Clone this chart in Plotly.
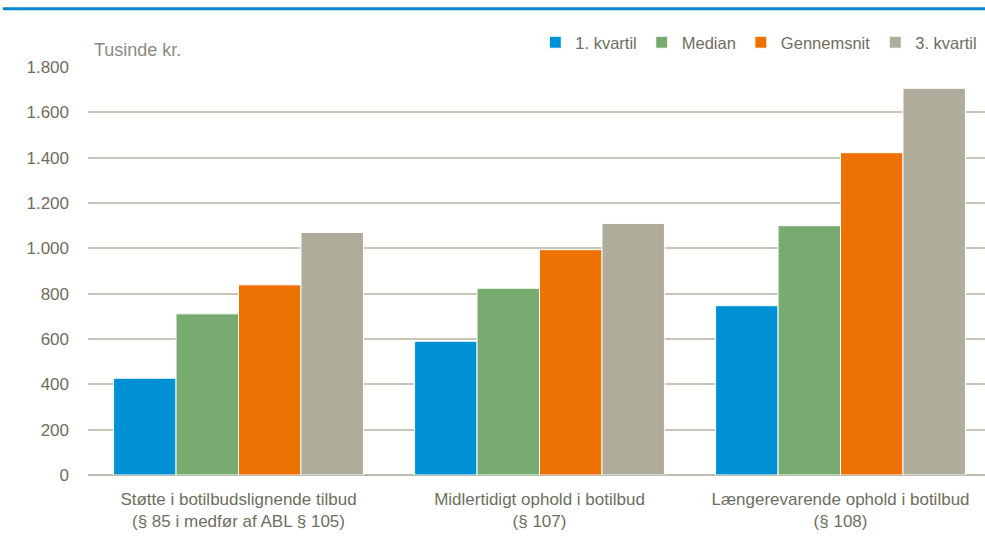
import plotly.graph_objects as go

categories = [
    "Støtte i botilbudslignende tilbud<br>(§ 85 i medfør af ABL § 105)",
    "Midlertidigt ophold i botilbud<br>(§ 107)",
    "Længerevarende ophold i botilbud<br>(§ 108)",
]
series_names = ["1. kvartil", "Median", "Gennemsnit", "3. kvartil"]
kvartil1 = [427, 590, 747]
median = [711, 824, 1100]
gennemsnit = [839, 994, 1422]
kvartil3 = [1070, 1110, 1706]
series_values = [kvartil1, median, gennemsnit, kvartil3]
colors = ["#0090D4", "#77AB6F", "#EE7203", "#AFAC9C"]
tick_vals = [0, 200, 400, 600, 800, 1000, 1200, 1400, 1600, 1800]
tick_text = ["0", "200", "400", "600", "800", "1.000", "1.200", "1.400", "1.600", "1.800"]

FONT = "Liberation Sans, Arial, sans-serif"
TXT = "#6E6E60"

fig = go.Figure()
for name, vals, col in zip(series_names, series_values, colors):
    fig.add_trace(go.Bar(
        name=name, x=categories, y=vals,
        marker=dict(color=col, line=dict(color="white", width=1)),
    ))

fig.update_layout(
    width=985, height=537,
    margin=dict(l=88, r=0, t=67, b=62, autoexpand=False),
    paper_bgcolor="white", plot_bgcolor="white",
    barmode="group", bargap=0.17, bargroupgap=0.0,
    font=dict(family=FONT, size=17, color=TXT),
    legend=dict(
        orientation="h", x=0.997, xanchor="right", y=1.06, yanchor="middle",
        font=dict(family=FONT, size=16.5, color=TXT),
        traceorder="normal", bgcolor="rgba(0,0,0,0)",
    ),
    xaxis=dict(
        range=[-0.5, 2.48], showgrid=False, showline=False, ticks="",
        automargin=False, ticklabelstandoff=12,
        tickfont=dict(family=FONT, size=17, color=TXT),
    ),
    yaxis=dict(
        range=[0, 1800], tickvals=tick_vals, ticktext=tick_text,
        automargin=False,
        showgrid=True, gridcolor="#C7C6B9", gridwidth=1.5,
        zeroline=True, zerolinecolor="#BDBCAE", zerolinewidth=2,
        showline=False, ticks="", ticklabelstandoff=18,
        tickfont=dict(family=FONT, size=17, color=TXT),
    ),
    shapes=[dict(type="line", xref="paper", yref="paper",
                 x0=-0.095, x1=1.0, y0=1.143, y1=1.143,
                 line=dict(color="#0089CF", width=3))],
    annotations=[dict(text="Tusinde kr.", xref="paper", yref="paper",
                      x=0.004, y=1.012, xanchor="left", yanchor="bottom",
                      showarrow=False,
                      font=dict(family=FONT, size=18, color="#8A8A80"))],
)

fig.write_html("out.html", config={"displayModeBar": False},
               post_script="document.body.style.margin='0';document.body.style.overflow='hidden';")
